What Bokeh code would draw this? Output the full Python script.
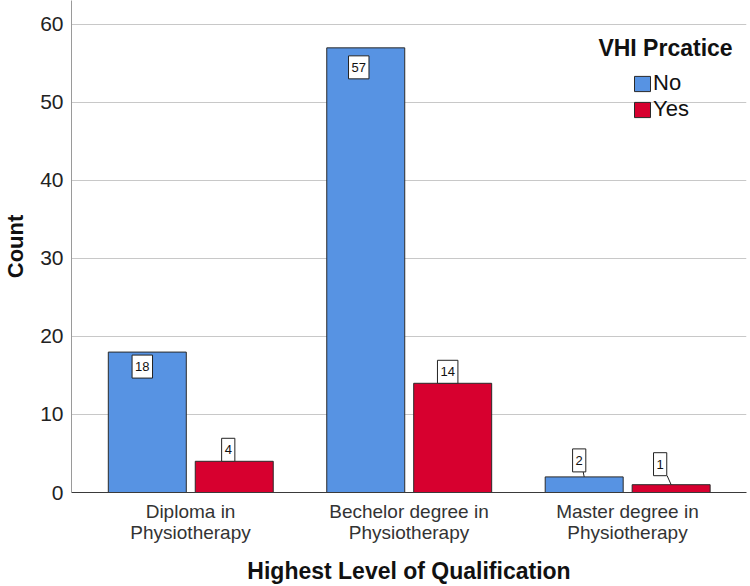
from bokeh.plotting import figure
from bokeh.models import (ColumnDataSource, FactorRange, Range1d, Label,
                          Legend, LegendItem)
from bokeh.transform import dodge
from bokeh.embed import file_html
from bokeh.resources import INLINE

# Counts of VHI practice by highest qualification
categories = ["Diploma in\nPhysiotherapy",
              "Bechelor degree in\nPhysiotherapy",
              "Master degree in\nPhysiotherapy"]
no_counts = [18, 57, 2]
yes_counts = [4, 14, 1]
y_ticks = [0, 10, 20, 30, 40, 50, 60]

BLUE = "#5793E3"
RED = "#D7002F"
FONT = "Liberation Sans"
PAD = 0.045         # absolute padding on each side of the category range
NO_DX, YES_DX = -0.198, 0.2
Y_TOP = 63.07
FRAME_H = 493
FRAME_W = 675

p = figure(width=750, height=586,
           x_range=FactorRange(*categories, range_padding=PAD, range_padding_units="absolute"),
           y_range=Range1d(0, Y_TOP), output_backend="svg", toolbar_location=None,
           min_border_left=71, min_border_right=4, min_border_top=0, min_border_bottom=93)
p.outline_line_color = None
p.background_fill_color = "white"

src = ColumnDataSource(dict(cat=categories, no=no_counts, yes=yes_counts))

r_no = p.vbar(x=dodge("cat", NO_DX, range=p.x_range), top="no", width=0.357, source=src,
              fill_color=BLUE, line_color="#2a2a2a", line_width=1)
r_yes = p.vbar(x=dodge("cat", YES_DX, range=p.x_range), top="yes", width=0.357, source=src,
               fill_color=RED, line_color="#2a2a2a", line_width=1)

px_per_unit = FRAME_H / Y_TOP
px_per_cat = FRAME_W / (len(categories) + 2 * PAD)

# value boxes: inside the bar when it is tall, above it otherwise (with a short leader)
def add_value_boxes(values, dx, x_offs, y_offs, lead_dx_px):
    for i, v in enumerate(values):
        xc = i + 0.5 + dx
        base = "top" if y_offs[i] < 0 else "bottom"
        p.add_layout(Label(x=xc, y=v, x_offset=x_offs[i], y_offset=y_offs[i], text=str(v),
                           text_align="center", text_baseline=base,
                           text_font=FONT, text_font_size="13px", text_color="#111111",
                           background_fill_color="white", border_line_color="#222222",
                           border_line_width=1,
                           padding=dict(left=3, right=3, top=7, bottom=7)))
        if y_offs[i] > 0:
            x1 = xc + lead_dx_px[i] / px_per_cat
            p.segment(x0=[xc], x1=[x1], y0=[v], y1=[v + y_offs[i] / px_per_unit],
                      line_color="#222222", line_width=1)

add_value_boxes(no_counts, NO_DX, [-5, -7, -5], [-3, -8, 5], [0, 0, -1])
add_value_boxes(yes_counts, YES_DX, [-6, -5, -11], [0, 0, 9], [0, 0, -4])

# axes
p.yaxis.ticker = y_ticks
p.yaxis.major_tick_out = 0
p.yaxis.major_tick_in = 0
p.yaxis.minor_tick_out = 0
p.yaxis.minor_tick_in = 0
p.yaxis.axis_line_color = "#9a9a9a"
p.yaxis.major_label_text_font = FONT
p.yaxis.major_label_text_font_size = "21px"
p.yaxis.major_label_text_color = "#222222"
p.yaxis.major_label_standoff = 8
p.yaxis.axis_label = "Count"
p.yaxis.axis_label_text_font = FONT
p.yaxis.axis_label_text_font_size = "22px"
p.yaxis.axis_label_text_font_style = "bold"
p.yaxis.axis_label_text_color = "#111111"
p.yaxis.axis_label_standoff = 9

p.xaxis.major_tick_out = 0
p.xaxis.major_tick_in = 0
p.xaxis.axis_line_color = "#3a3a3a"
p.xaxis.major_label_text_font = FONT
p.xaxis.major_label_text_font_size = "19px"
p.xaxis.major_label_text_color = "#333333"
p.xaxis.major_label_text_line_height = 1.0
p.xaxis.major_label_standoff = 8
p.xaxis.axis_label = "Highest Level of Qualification"
p.xaxis.axis_label_text_font = FONT
p.xaxis.axis_label_text_font_size = "23px"
p.xaxis.axis_label_text_font_style = "bold"
p.xaxis.axis_label_text_color = "#111111"
p.xaxis.axis_label_standoff = 12

p.xgrid.grid_line_color = None
p.ygrid.grid_line_color = "#c8c8c8"
p.ygrid.grid_line_width = 1

# legend
legend = Legend(items=[LegendItem(label="No", renderers=[r_no]),
                       LegendItem(label="Yes", renderers=[r_yes])],
                location=(561, 370), background_fill_alpha=0, border_line_alpha=0,
                padding=0, margin=0, glyph_width=20, glyph_height=19, label_standoff=1,
                spacing=0, label_text_font=FONT, label_text_font_size="22px",
                label_text_color="#111111", label_height=19)
p.add_layout(legend)

p.add_layout(Label(x=594, y=445, x_units="screen", y_units="screen", text="VHI Prcatice",
                   text_align="center", text_baseline="middle", text_font=FONT,
                   text_font_size="23px", text_font_style="bold", text_color="#111111"))

open("out.html", "w").write(file_html(p, INLINE))
